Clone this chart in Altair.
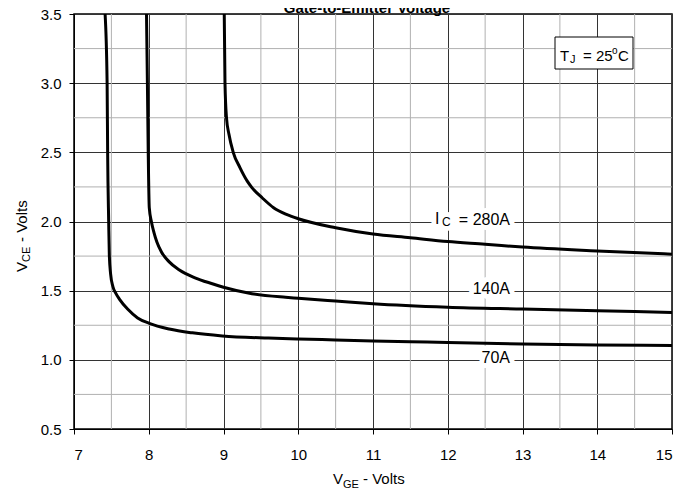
import altair as alt
import pandas as pd

# ---------------- data ----------------
vge_280 = [9.01, 9.02, 9.04, 9.073, 9.13, 9.22, 9.32, 9.38, 9.52, 9.67, 9.85, 10.0,
           10.5, 11.0, 11.5, 12.0, 12.5, 13.0, 14.0, 15.0]
vce_280 = [3.5, 3.0, 2.75, 2.63, 2.5, 2.39, 2.29, 2.245, 2.17, 2.10, 2.05, 2.02,
           1.955, 1.91, 1.883, 1.855, 1.836, 1.815, 1.787, 1.764]

vge_140 = [7.97, 7.982, 7.993, 8.007, 8.035, 8.07, 8.11, 8.17, 8.27, 8.41, 8.61, 8.85,
           9.0, 9.38, 9.83, 10.0, 10.5, 11.0, 12.0, 13.0, 14.0, 15.0]
vce_140 = [3.5, 3.0, 2.5, 2.1, 2.0, 1.92, 1.85, 1.78, 1.71, 1.65, 1.595, 1.55,
           1.525, 1.478, 1.452, 1.445, 1.425, 1.405, 1.38, 1.367, 1.355, 1.343]

vge_70 = [7.416, 7.443, 7.45, 7.464, 7.473, 7.49, 7.52, 7.56, 7.607, 7.717, 7.851, 8.007,
          8.273, 8.584, 8.984, 9.6, 10.0, 10.5, 11.0, 11.5, 12.0, 13.0, 14.0, 15.0]
vce_70 = [3.5, 3.0, 2.5, 2.0, 1.75, 1.62, 1.53, 1.48, 1.439, 1.367, 1.303, 1.264,
          1.223, 1.195, 1.173, 1.157, 1.15, 1.144, 1.137, 1.131, 1.125, 1.115, 1.108, 1.103]

series_names = ["280A", "140A", "70A"]
label_text = ["= 280A", "140A", "70A"]
label_at = [2.0, 1.5, 1.0]

x_major = [7, 8, 9, 10, 11, 12, 13, 14, 15]
y_major = [0.5, 1.0, 1.5, 2.0, 2.5, 3.0, 3.5]
x_minor = [7.5, 8.5, 9.5, 10.5, 11.5, 12.5, 13.5, 14.5]
y_minor = [0.75, 1.25, 1.75, 2.25, 2.75, 3.25]

title_text = "Gate-to-Emitter Voltage"

# ---------------- build table ----------------
rows = []
for name, xv, yv in zip(series_names, [vge_280, vge_140, vge_70], [vce_280, vce_140, vce_70]):
    for i, (a, b) in enumerate(zip(xv, yv)):
        rows.append({"ic": name, "vge": a, "vce": b, "i": i})
curves = pd.DataFrame(rows)

FONT = "Liberation Sans"
MAJOR = "#333333"
MINOR = "#b0b0b0"

xs = alt.Scale(domain=[7, 15], nice=False, zero=False)
ys = alt.Scale(domain=[0.5, 3.5], nice=False, zero=False)

xaxis = alt.Axis(
    values=x_major, format="d", title=None, grid=True, gridColor=MAJOR,
    gridWidth=1, domainColor="black", tickColor="black", tickSize=5,
    labelFont=FONT, labelFontSize=15, labelColor="black", labelPadding=13)
yaxis = alt.Axis(
    values=y_major, format=".1f", title=None, grid=True, gridColor=MAJOR,
    gridWidth=1, domainColor="black", tickColor="black", tickSize=5,
    labelFont=FONT, labelFontSize=15, labelColor="black", labelPadding=8)

one = pd.DataFrame({"a": [0]})

minor_x = alt.Chart(pd.DataFrame({"gx": x_minor})).mark_rule(
    color=MINOR, strokeWidth=1).encode(x=alt.X("gx:Q", scale=xs, axis=xaxis))
minor_y = alt.Chart(pd.DataFrame({"gy": y_minor})).mark_rule(
    color=MINOR, strokeWidth=1).encode(y=alt.Y("gy:Q", scale=ys, axis=yaxis))

lines = alt.Chart(curves).mark_line(
    color="black", strokeWidth=3, interpolate="monotone", clip=True
).encode(
    x=alt.X("vge:Q", scale=xs, axis=xaxis),
    y=alt.Y("vce:Q", scale=ys, axis=yaxis),
    detail="ic:N",
    order="i:Q",
)

lab_df = pd.DataFrame({"t": label_text, "v": label_at})
AFS = 16
lab_halo = alt.Chart(lab_df).mark_text(
    align="right", baseline="alphabetic", dy=3, font=FONT, fontSize=AFS,
    fill="white", stroke="white", strokeWidth=10, strokeJoin="round"
).encode(x=alt.value(436), y=alt.Y("v:Q", scale=ys, axis=yaxis), text="t:N")
lab = alt.Chart(lab_df).mark_text(
    align="right", baseline="alphabetic", dy=3, font=FONT, fontSize=AFS, color="black"
).encode(x=alt.value(436), y=alt.Y("v:Q", scale=ys, axis=yaxis), text="t:N")


def txt(s, x, y, size, halo=False, angle=None, bold=False):
    kw = dict(align="left", baseline="alphabetic", font=FONT, fontSize=size, text=s)
    if angle is not None:
        kw["angle"] = angle
    if bold:
        kw["fontWeight"] = "bold"
    if halo:
        kw.update(fill="white", stroke="white", strokeWidth=10, strokeJoin="round")
    else:
        kw["color"] = "black"
    return alt.Chart(one).mark_text(**kw).encode(x=alt.value(x), y=alt.value(y))


# I_C prefix for the 280A label (plot coords)
ic_parts = [
    txt("I", 361, 210, AFS, halo=True), txt("C", 368, 212, 12, halo=True),
    txt("I", 361, 210, AFS), txt("C", 368, 212, 12),
]

# T_J box
tj_box = alt.Chart(one).mark_rect(fill="white", stroke="black", strokeWidth=1).encode(
    x=alt.value(481), x2=alt.value(559), y=alt.value(23), y2=alt.value(55))
tj_parts = [
    txt("T", 486, 47, 15), txt("J", 496, 49, 11), txt("= 25", 509, 47, 15),
    txt("o", 538, 40, 10), txt("C", 544, 47, 15),
]

# axis titles
xt = [txt("V", 259, 470, 15), txt("GE", 269, 474, 11), txt("- Volts", 289, 470, 15)]
yt = [txt("V", -47, 258, 15, angle=270), txt("CE", -44, 248, 11, angle=270),
      txt("- Volts", -47, 228, 15, angle=270)]

title = alt.Chart(one).mark_text(
    align="center", baseline="alphabetic", font=FONT, fontSize=15, fontWeight="bold",
    color="black", text=title_text).encode(x=alt.value(293), y=alt.value(-1))

chart = alt.layer(
    minor_x, minor_y, lines, lab_halo, lab, *ic_parts, tj_box, *tj_parts, *xt, *yt, title
).properties(
    width=598, height=415,
    padding={"left": 66, "top": 6, "right": 5, "bottom": 60},
    autosize="none",
).configure_view(stroke="black", strokeWidth=1.5)

chart.save("out.html", embed_options={"renderer": "svg", "actions": False})
